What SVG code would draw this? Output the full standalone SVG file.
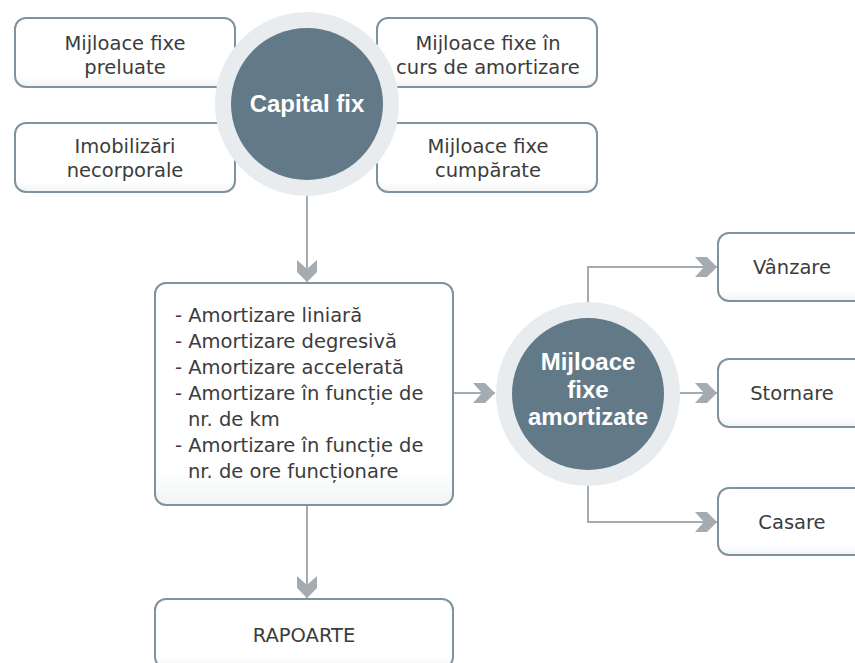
<svg xmlns="http://www.w3.org/2000/svg" width="855" height="663" viewBox="0 0 855 663">
<style>
.box{fill:url(#bg);stroke:#7f939e;stroke-width:2}
.t{font-family:"DejaVu Sans",Verdana,sans-serif;font-size:19.5px;fill:#3c3c3c}
.c{text-anchor:middle}
.ring{fill:#e8ecef}
.core{fill:#627987}
.ct{font-family:"Liberation Sans",Arial,sans-serif;font-weight:bold;font-size:24px;fill:#ffffff;text-anchor:middle}
.con{fill:none;stroke:#a4acb2;stroke-width:2;marker-end:url(#chev)}
</style>
<defs>
<linearGradient id="bg" x1="0" y1="0" x2="0" y2="1">
<stop offset="0" stop-color="#ffffff"/>
<stop offset="0.85" stop-color="#ffffff"/>
<stop offset="1" stop-color="#f1f3f4"/>
</linearGradient>
<marker id="chev" viewBox="-22 -10 22 20" refX="0" refY="0" markerWidth="22" markerHeight="20" markerUnits="userSpaceOnUse" orient="auto">
<path d="M0,0 L-10,-10 L-22,-10 L-13,0 L-22,10 L-10,10 Z" fill="#a4acb2"/>
</marker>
</defs>
<rect width="855" height="663" fill="#ffffff"/>

<g id="connectors">
<path class="con" d="M307,196 L307,282"/>
<path class="con" d="M453,393 L495,393"/>
<path class="con" d="M588,302 L588,267 L717,267"/>
<path class="con" d="M680,393 L717,393"/>
<path class="con" d="M588,486 L588,522 L717,522"/>
<path class="con" d="M307,505 L307,598"/>
</g>

<g id="n-preluate">
<rect class="box" x="15" y="18" width="220" height="69" rx="11"/>
<text class="t c" x="125" y="50">Mijloace fixe</text>
<text class="t c" x="125" y="74">preluate</text>
</g>
<g id="n-imobilizari">
<rect class="box" x="15" y="123" width="220" height="69" rx="11"/>
<text class="t c" x="125" y="153">Imobilizări</text>
<text class="t c" x="125" y="177">necorporale</text>
</g>
<g id="n-curs">
<rect class="box" x="377" y="18" width="220" height="69" rx="11"/>
<text class="t c" x="488" y="50">Mijloace fixe în</text>
<text class="t c" x="488" y="74">curs de amortizare</text>
</g>
<g id="n-cumparate">
<rect class="box" x="377" y="123" width="220" height="69" rx="11"/>
<text class="t c" x="488" y="153">Mijloace fixe</text>
<text class="t c" x="488" y="177">cumpărate</text>
</g>

<g id="n-capital">
<circle class="ring" cx="307" cy="104" r="92"/>
<circle class="core" cx="307" cy="104" r="76"/>
<text class="ct" x="307" y="112">Capital fix</text>
</g>

<g id="n-metode">
<rect class="box" x="155" y="283" width="298" height="222" rx="11"/>
<text class="t" x="175" y="322">- Amortizare liniară</text>
<text class="t" x="175" y="348">- Amortizare degresivă</text>
<text class="t" x="175" y="374">- Amortizare accelerată</text>
<text class="t" x="175" y="400">- Amortizare în funcție de</text>
<text class="t" x="188" y="426">nr. de km</text>
<text class="t" x="175" y="452">- Amortizare în funcție de</text>
<text class="t" x="188" y="478">nr. de ore funcționare</text>
</g>

<g id="n-amortizate">
<circle class="ring" cx="588" cy="394" r="92"/>
<circle class="core" cx="588" cy="394" r="76"/>
<text class="ct" x="588" y="370">Mijloace</text>
<text class="ct" x="588" y="397.5">fixe</text>
<text class="ct" x="588" y="425">amortizate</text>
</g>

<g id="n-vanzare">
<rect class="box" x="718" y="233" width="150" height="68" rx="11"/>
<text class="t c" x="792" y="273.5">Vânzare</text>
</g>
<g id="n-stornare">
<rect class="box" x="718" y="359" width="150" height="68" rx="11"/>
<text class="t c" x="792" y="400">Stornare</text>
</g>
<g id="n-casare">
<rect class="box" x="718" y="488" width="150" height="67" rx="11"/>
<text class="t c" x="792" y="528.5">Casare</text>
</g>

<g id="n-rapoarte">
<rect class="box" x="155" y="599" width="298" height="69" rx="11"/>
<text class="t c" x="304" y="642">RAPOARTE</text>
</g>
</svg>
